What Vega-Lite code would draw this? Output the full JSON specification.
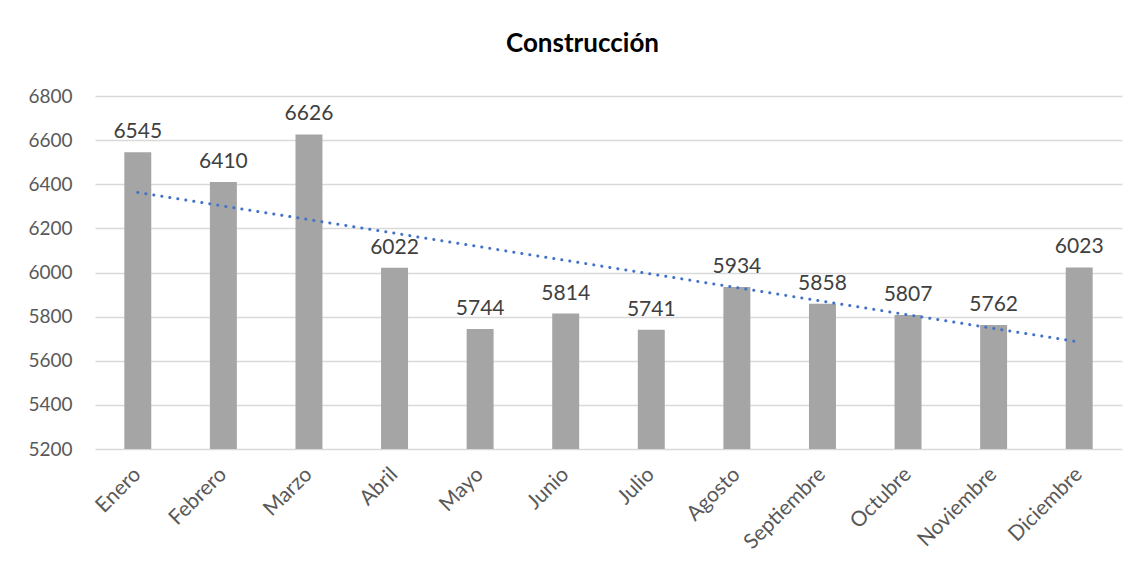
{
  "$schema": "https://vega.github.io/schema/vega-lite/v6.json",
  "autosize": "none",
  "width": 1027,
  "height": 353,
  "padding": {"left": 95, "top": 96, "right": 21, "bottom": 129},
  "background": "white",
  "title": {"text": "Construcción", "fontSize": 26, "fontWeight": "bold", "font": "Lato", "color": "#000000", "offset": 30, "dx": -26, "anchor": "middle"},
  "datasets": {
    "bars": [
      {"mes": "Enero", "valor": 6545},
      {"mes": "Febrero", "valor": 6410},
      {"mes": "Marzo", "valor": 6626},
      {"mes": "Abril", "valor": 6022},
      {"mes": "Mayo", "valor": 5744},
      {"mes": "Junio", "valor": 5814},
      {"mes": "Julio", "valor": 5741},
      {"mes": "Agosto", "valor": 5934},
      {"mes": "Septiembre", "valor": 5858},
      {"mes": "Octubre", "valor": 5807},
      {"mes": "Noviembre", "valor": 5762},
      {"mes": "Diciembre", "valor": 6023}
    ],
    "trend": [
      {"mes": "Enero", "valor": 6363},
      {"mes": "Diciembre", "valor": 5685}
    ]
  },
  "encoding": {
    "x": {
      "field": "mes", "type": "nominal", "sort": null,
      "scale": {"domain": ["Enero","Febrero","Marzo","Abril","Mayo","Junio","Julio","Agosto","Septiembre","Octubre","Noviembre","Diciembre"], "paddingInner": 0.685, "paddingOuter": 0.3425},
      "axis": {"title": null, "labelAngle": -45, "labelAlign": "right", "labelBaseline": "middle", "labelFontSize": 21, "labelFont": "Lato", "labelColor": "#595959", "labelPadding": 22, "domain": false, "ticks": false, "grid": false}
    },
    "y": {
      "field": "valor", "type": "quantitative",
      "scale": {"domain": [5200, 6800], "zero": false, "nice": false},
      "axis": {"title": null, "format": "d", "values": [5200,5400,5600,5800,6000,6200,6400,6600,6800], "labelFontSize": 19, "labelFont": "Lato", "labelColor": "#595959", "labelPadding": 23, "domain": false, "ticks": false, "grid": true, "gridColor": "#D9D9D9", "gridWidth": 1.3}
    }
  },
  "layer": [
    {"data": {"name": "bars"}, "mark": {"type": "bar", "color": "#A5A5A5", "clip": true}},
    {"data": {"name": "bars"}, "mark": {"type": "text", "baseline": "bottom", "dy": -10, "fontSize": 21, "font": "Lato", "color": "#404040"}, "encoding": {"text": {"field": "valor", "type": "quantitative", "format": "d"}}},
    {"data": {"name": "trend"}, "mark": {"type": "line", "color": "#4472C4", "strokeWidth": 3, "strokeDash": [0.1, 8], "strokeCap": "round"}}
  ],
  "config": {"view": {"stroke": null}}
}
